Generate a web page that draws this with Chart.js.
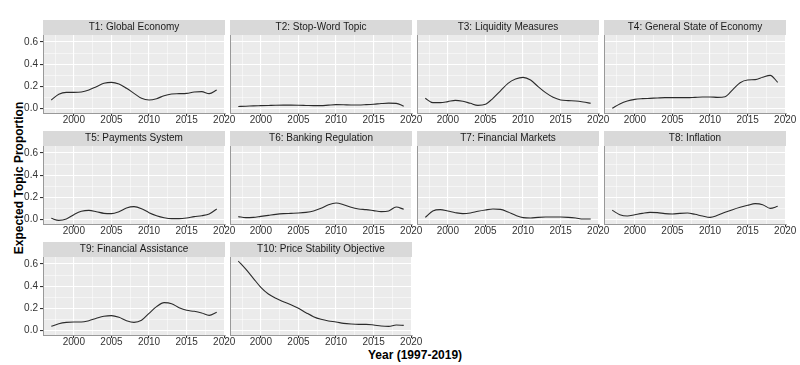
<!DOCTYPE html>
<html>
<head>
<meta charset="utf-8">
<script src="https://cdn.jsdelivr.net/npm/chart.js@4.4.1/dist/chart.umd.min.js"></script>
<style>
  body { margin: 0; background: #fff; }
  #wrap { position: relative; width: 800px; height: 365px; overflow: hidden; font-family: "Liberation Sans", Arial, sans-serif; }
  #wrap canvas { position: absolute; }
  .ttl { position: absolute; font-weight: bold; font-size: 12px; color: #000; white-space: nowrap; }
</style>
</head>
<body>
<div id="wrap">
  <div class="ttl" id="ytitle">Expected Topic Proportion</div>
  <div class="ttl" id="xtitle">Year (1997-2019)</div>
</div>
<script>
// data (loess curves, one value per year)
const years = [1997, 1998, 1999, 2000, 2001, 2002, 2003, 2004, 2005, 2006, 2007, 2008,
               2009, 2010, 2011, 2012, 2013, 2014, 2015, 2016, 2017, 2018, 2019];

const t1 = [0.078, 0.13, 0.147, 0.147, 0.15, 0.168, 0.198, 0.228, 0.237, 0.222, 0.183, 0.138, 0.093, 0.078, 0.09, 0.117, 0.132, 0.135, 0.138, 0.15, 0.153, 0.135, 0.168];
const t2 = [0.02, 0.022, 0.025, 0.027, 0.029, 0.031, 0.032, 0.032, 0.031, 0.029, 0.027, 0.027, 0.032, 0.036, 0.035, 0.033, 0.033, 0.036, 0.04, 0.046, 0.05, 0.048, 0.022];
const t3 = [0.093, 0.054, 0.054, 0.063, 0.075, 0.066, 0.048, 0.03, 0.039, 0.093, 0.16, 0.228, 0.267, 0.282, 0.258, 0.198, 0.144, 0.102, 0.078, 0.072, 0.069, 0.06, 0.048];
const t4 = [0.003, 0.042, 0.069, 0.084, 0.09, 0.093, 0.096, 0.099, 0.099, 0.099, 0.099, 0.102, 0.105, 0.105, 0.102, 0.108, 0.17, 0.234, 0.258, 0.261, 0.282, 0.3, 0.237];
const t5 = [0.012, -0.006, 0.006, 0.045, 0.075, 0.084, 0.072, 0.057, 0.054, 0.072, 0.105, 0.117, 0.099, 0.063, 0.036, 0.018, 0.009, 0.009, 0.015, 0.027, 0.036, 0.051, 0.096];
const t6 = [0.027, 0.018, 0.021, 0.03, 0.039, 0.048, 0.054, 0.057, 0.06, 0.066, 0.078, 0.102, 0.135, 0.15, 0.135, 0.111, 0.096, 0.09, 0.081, 0.072, 0.078, 0.114, 0.093];
const t7 = [0.021, 0.078, 0.09, 0.078, 0.063, 0.054, 0.06, 0.075, 0.087, 0.096, 0.093, 0.069, 0.039, 0.018, 0.015, 0.021, 0.024, 0.024, 0.024, 0.021, 0.015, 0.006, 0.006];
const t8 = [0.084, 0.045, 0.033, 0.045, 0.057, 0.066, 0.063, 0.054, 0.051, 0.057, 0.06, 0.048, 0.033, 0.021, 0.039, 0.066, 0.09, 0.111, 0.129, 0.144, 0.135, 0.102, 0.12];
const t9 = [0.039, 0.063, 0.075, 0.078, 0.078, 0.09, 0.111, 0.129, 0.135, 0.12, 0.09, 0.075, 0.093, 0.156, 0.216, 0.252, 0.243, 0.207, 0.183, 0.174, 0.159, 0.138, 0.165];
const t10 = [0.627, 0.553, 0.471, 0.39, 0.33, 0.291, 0.261, 0.234, 0.201, 0.162, 0.126, 0.102, 0.087, 0.078, 0.066, 0.06, 0.057, 0.057, 0.051, 0.042, 0.039, 0.051, 0.048];

const topics = [
    'T1: Global Economy', 'T2: Stop-Word Topic', 'T3: Liquidity Measures', 'T4: General State of Economy',
    'T5: Payments System', 'T6: Banking Regulation', 'T7: Financial Markets', 'T8: Inflation',
    'T9: Financial Assistance', 'T10: Price Stability Objective'
];
const series = [t1, t2, t3, t4, t5, t6, t7, t8, t9, t10];

// major + minor breaks like ggplot
const xTicks = [1997.5, 2000, 2002.5, 2005, 2007.5, 2010, 2012.5, 2015, 2017.5, 2020];
const yTicks = [0, 0.1, 0.2, 0.3, 0.4, 0.5, 0.6];

// panel geometry
const panelW = 182, plotH = 78, stripH = 15, axisH = 22, side = 40;
const colLeft = c => 43 + 187 * c;
const rowTop = r => Math.round(20 + 111.2 * r);

Chart.defaults.font.family = '"Liberation Sans", Arial, sans-serif';
Chart.defaults.color = '#333';

const isMajorX = v => Math.abs(v % 5) < 1e-6;
const isMajorY = v => Math.round(v * 10) % 2 === 0;

// grey panel + strip behind everything
const panelBg = {
    id: 'panelBg',
    beforeDraw(chart) {
        const a = chart.chartArea, ctx = chart.ctx;
        ctx.save();
        ctx.fillStyle = '#D9D9D9';
        ctx.fillRect(a.left, a.top - stripH, a.right - a.left, stripH);
        ctx.fillStyle = '#EBEBEB';
        ctx.fillRect(a.left, a.top, a.right - a.left, a.bottom - a.top);
        ctx.restore();
    }
};

const wrap = document.getElementById('wrap');

topics.forEach((name, i) => {
    const col = i % 4, row = Math.floor(i / 4);
    const first = col === 0;
    const canvas = document.createElement('canvas');
    canvas.width = panelW + 2 * side;
    canvas.height = stripH + plotH + axisH;
    canvas.style.left = (colLeft(col) - side) + 'px';
    canvas.style.top = rowTop(row) + 'px';
    wrap.appendChild(canvas);

    new Chart(canvas, {
        type: 'line',
        data: {
            datasets: [{
                label: name,
                data: years.map((y, k) => ({ x: y, y: series[i][k] })),
                borderColor: '#2B2B2B',
                borderWidth: 1.1,
                pointRadius: 0,
                cubicInterpolationMode: 'monotone',
                fill: false
            }]
        },
        options: {
            responsive: false,
            animation: false,
            events: [],
            layout: {
                autoPadding: false,
                padding: { left: first ? 5 : side, right: side, top: 0, bottom: 0 }
            },
            scales: {
                x: {
                    type: 'linear',
                    min: 1995.9,
                    max: 2020.1,
                    afterBuildTicks: s => { s.ticks = xTicks.map(v => ({ value: v })); },
                    afterFit: s => { s.height = axisH; },
                    grid: {
                        color: '#FFFFFF',
                        lineWidth: c => (c.tick && isMajorX(c.tick.value)) ? 1.1 : 0.5,
                        tickColor: c => (c.tick && isMajorX(c.tick.value)) ? '#333333' : 'rgba(0,0,0,0)',
                        tickLength: 3
                    },
                    border: { display: true, color: '#999999', width: 1 },
                    ticks: {
                        autoSkip: false,
                        maxRotation: 0,
                        minRotation: 0,
                        padding: -2,
                        font: { size: 10 },
                        color: '#333',
                        callback: v => isMajorX(v) ? String(v) : ''
                    }
                },
                y: {
                    min: -0.039,
                    max: 0.663,
                    afterBuildTicks: s => { s.ticks = yTicks.map(v => ({ value: v })); },
                    afterFit: s => { s.width = first ? side - 5 : 0; },
                    grid: {
                        color: '#FFFFFF',
                        lineWidth: c => (c.tick && isMajorY(c.tick.value)) ? 1.1 : 0.5,
                        tickColor: c => (c.tick && isMajorY(c.tick.value)) ? '#333333' : 'rgba(0,0,0,0)',
                        drawTicks: first,
                        tickLength: 3
                    },
                    border: { display: true, color: '#999999', width: 1 },
                    ticks: {
                        display: first,
                        autoSkip: false,
                        padding: 2,
                        font: { size: 10 },
                        color: '#333',
                        callback: v => isMajorY(v) ? v.toFixed(1) : ''
                    }
                }
            },
            plugins: {
                legend: { display: false },
                tooltip: { enabled: false },
                title: {
                    display: true,
                    text: name,
                    fullSize: false,
                    color: '#1A1A1A',
                    font: { size: 10, weight: 'normal', lineHeight: 1.2 },
                    padding: { top: 1.5, bottom: 1.5 }
                }
            }
        },
        plugins: [panelBg]
    });
});

// shared axis titles
const yt = document.getElementById('ytitle');
yt.style.left = (19 - yt.offsetWidth / 2) + 'px';
yt.style.top = (178 - yt.offsetHeight / 2) + 'px';
yt.style.transform = 'rotate(-90deg)';
const xt = document.getElementById('xtitle');
xt.style.left = (415 - xt.offsetWidth / 2) + 'px';
xt.style.top = (354.5 - xt.offsetHeight / 2) + 'px';
</script>
</body>
</html>
